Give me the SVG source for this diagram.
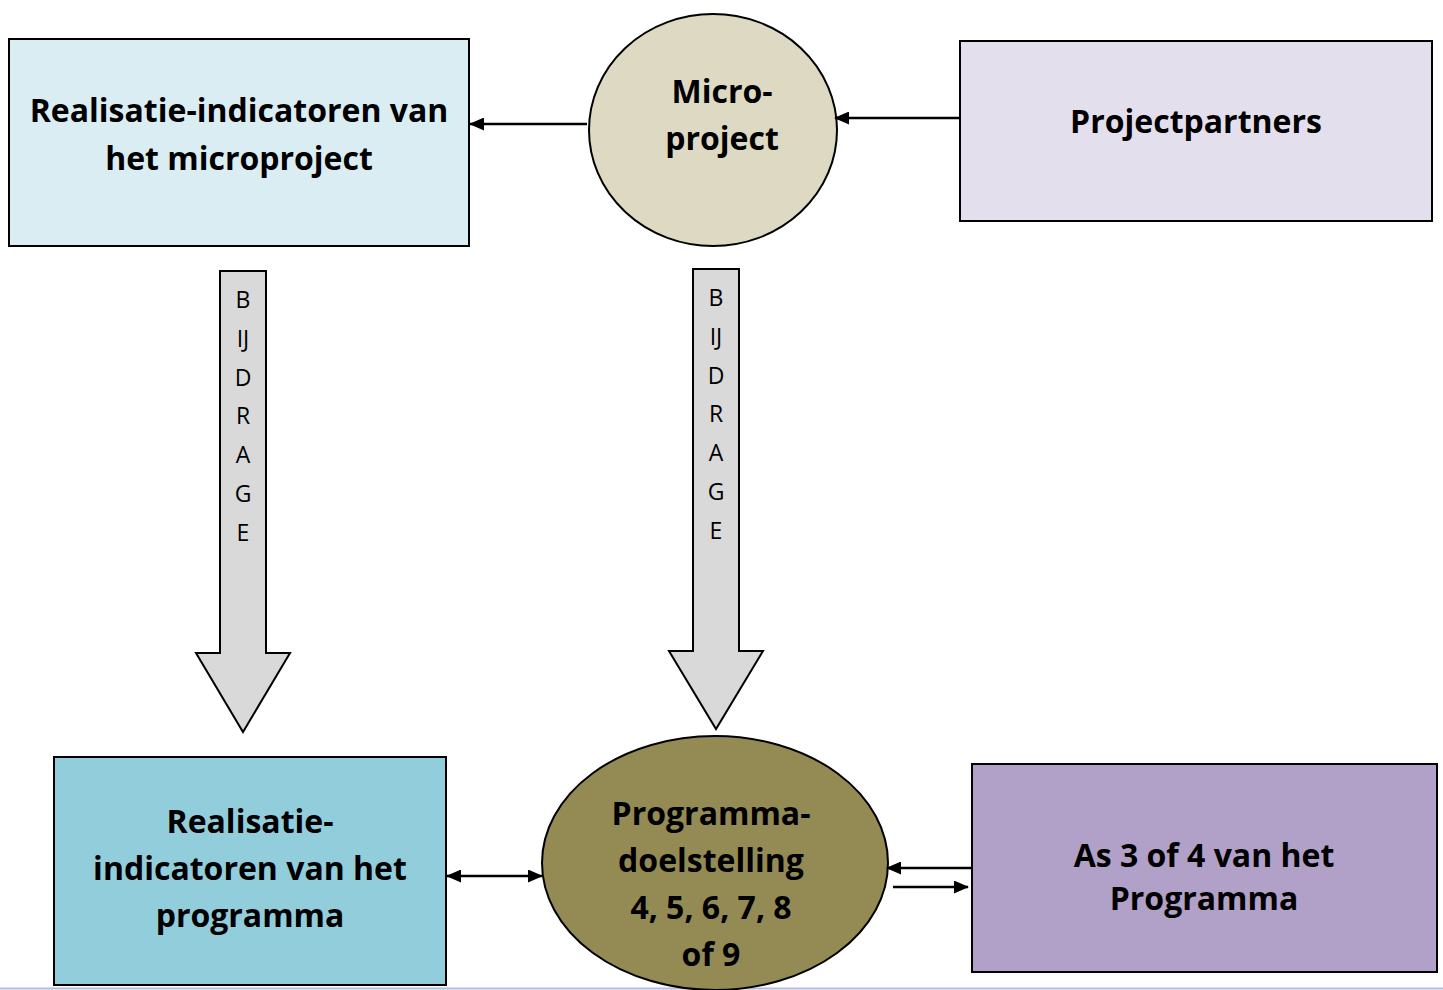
<svg xmlns="http://www.w3.org/2000/svg" width="1443" height="990" viewBox="0 0 1443 990">
<defs>
<marker id="ah" markerWidth="15" markerHeight="13" refX="14" refY="6.5" orient="auto" markerUnits="userSpaceOnUse" viewBox="0 0 15 13">
<path d="M0,0 L15,6.5 L0,13 z" fill="#000"/>
</marker>
<marker id="ahs" markerWidth="15" markerHeight="13" refX="1" refY="6.5" orient="auto" markerUnits="userSpaceOnUse" viewBox="0 0 15 13">
<path d="M15,0 L0,6.5 L15,13 z" fill="#000"/>
</marker>
<style>
.box{stroke:#000;stroke-width:2}
.t{font-family:"Open Sans","Noto Sans","Liberation Sans",sans-serif;font-weight:bold;font-size:32px;text-anchor:middle;fill:#000}
.l{font-family:"Open Sans","Noto Sans","Liberation Sans",sans-serif;font-size:23px;text-anchor:middle;fill:#000}
.c{stroke:#000;stroke-width:2.5;fill:none}
.blk{fill:#d9d9d9;stroke:#000;stroke-width:2}
</style>
</defs>
<rect width="1443" height="990" fill="#fff"/>
<line x1="0" y1="988.5" x2="1443" y2="988.5" stroke="#b4bce6" stroke-width="2"/>

<g id="realisatie-micro">
<rect class="box" x="9" y="39" width="460" height="207" fill="#daedf3"/>
<text class="t" x="239" y="122">Realisatie-indicatoren van</text>
<text class="t" x="239" y="170">het microproject</text>
</g>

<g id="microproject">
<ellipse class="box" cx="713" cy="130" rx="124" ry="116" fill="#ddd9c3"/>
<text class="t" x="722" y="103">Micro-</text>
<text class="t" x="722" y="150">project</text>
</g>

<g id="projectpartners">
<rect class="box" x="960" y="41" width="472" height="180" fill="#e4dfec"/>
<text class="t" x="1196" y="133">Projectpartners</text>
</g>

<g id="realisatie-programma">
<rect class="box" x="54" y="757" width="392" height="228" fill="#92cddc"/>
<text class="t" x="250" y="833">Realisatie-</text>
<text class="t" x="250" y="880">indicatoren van het</text>
<text class="t" x="250" y="927">programma</text>
</g>

<g id="programmadoelstelling">
<ellipse class="box" cx="715" cy="863" rx="173" ry="127" fill="#948a54"/>
<text class="t" x="711" y="825">Programma-</text>
<text class="t" x="711" y="872">doelstelling</text>
<text class="t" x="711" y="919">4, 5, 6, 7, 8</text>
<text class="t" x="711" y="966">of 9</text>
</g>

<g id="as34">
<rect class="box" x="972" y="764" width="465" height="208" fill="#b1a0c7"/>
<text class="t" x="1204" y="867">As 3 of 4 van het</text>
<text class="t" x="1204" y="910">Programma</text>
</g>

<g id="bijdrage-1">
<path class="blk" d="M220,271 L266,271 L266,653 L290,653 L243,732 L196,653 L220,653 Z"/>
<text class="l" x="243" y="308">B</text>
<text class="l" x="243" y="347">IJ</text>
<text class="l" x="243" y="386">D</text>
<text class="l" x="243" y="424">R</text>
<text class="l" x="243" y="463">A</text>
<text class="l" x="243" y="502">G</text>
<text class="l" x="243" y="541">E</text>
</g>

<g id="bijdrage-2">
<path class="blk" d="M693,269 L739,269 L739,651 L763,651 L716,729 L669,651 L693,651 Z"/>
<text class="l" x="716" y="306">B</text>
<text class="l" x="716" y="345">IJ</text>
<text class="l" x="716" y="384">D</text>
<text class="l" x="716" y="422">R</text>
<text class="l" x="716" y="461">A</text>
<text class="l" x="716" y="500">G</text>
<text class="l" x="716" y="539">E</text>
</g>

<g id="connectors">
<line class="c" x1="587" y1="124" x2="470" y2="124" marker-end="url(#ah)"/>
<line class="c" x1="959" y1="118" x2="835" y2="118" marker-end="url(#ah)"/>
<line class="c" x1="447" y1="876" x2="542" y2="876" marker-start="url(#ahs)" marker-end="url(#ah)"/>
<line class="c" x1="971" y1="868" x2="887" y2="868" marker-end="url(#ah)"/>
<line class="c" x1="893" y1="887" x2="968" y2="887" marker-end="url(#ah)"/>
</g>
</svg>
